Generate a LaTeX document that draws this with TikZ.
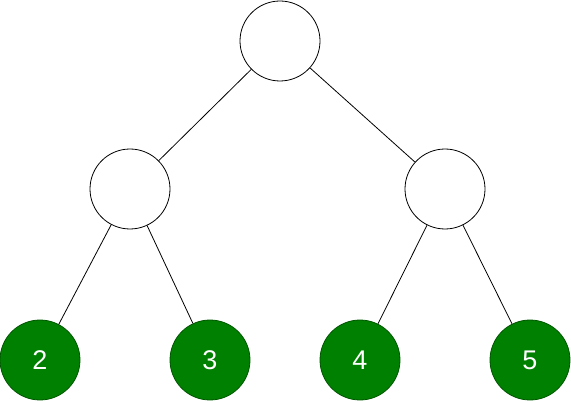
\documentclass[tikz,border=0pt]{standalone}
\usepackage{fontspec}
\setmainfont{Liberation Sans}
\usetikzlibrary{positioning}
\definecolor{leafgreen}{HTML}{008000}
\definecolor{leafdark}{HTML}{005700}
\newcommand{\leaffont}{\fontsize{27}{31}\selectfont}
\begin{document}
\begin{tikzpicture}[
  x=1pt, y=-1pt,
  vert/.style={circle, draw=black, fill=white, line width=0.8pt,
               minimum size=80pt, inner sep=0pt},
  leaf/.style={vert, draw=leafdark, fill=leafgreen,
               text=white, font=\leaffont},
  edge/.style={line width=0.8pt, color=black}
]
  \useasboundingbox (0,0) rectangle (571,401);
  \node[vert] (root) at (280,41) {};
  \node[vert] (left) at (130,189) {};
  \node[vert] (right) at (445,189) {};
  \node[leaf] (two) at (40,360) {2};
  \node[leaf] (three) at (210,360) {3};
  \node[leaf] (four) at (360,360) {4};
  \node[leaf] (five) at (530,360) {5};

  \draw[edge] (root) -- (left);
  \draw[edge] (root) -- (right);
  \draw[edge] (left) -- (two);
  \draw[edge] (left) -- (three);
  \draw[edge] (right) -- (four);
  \draw[edge] (right) -- (five);
\end{tikzpicture}
\end{document}
